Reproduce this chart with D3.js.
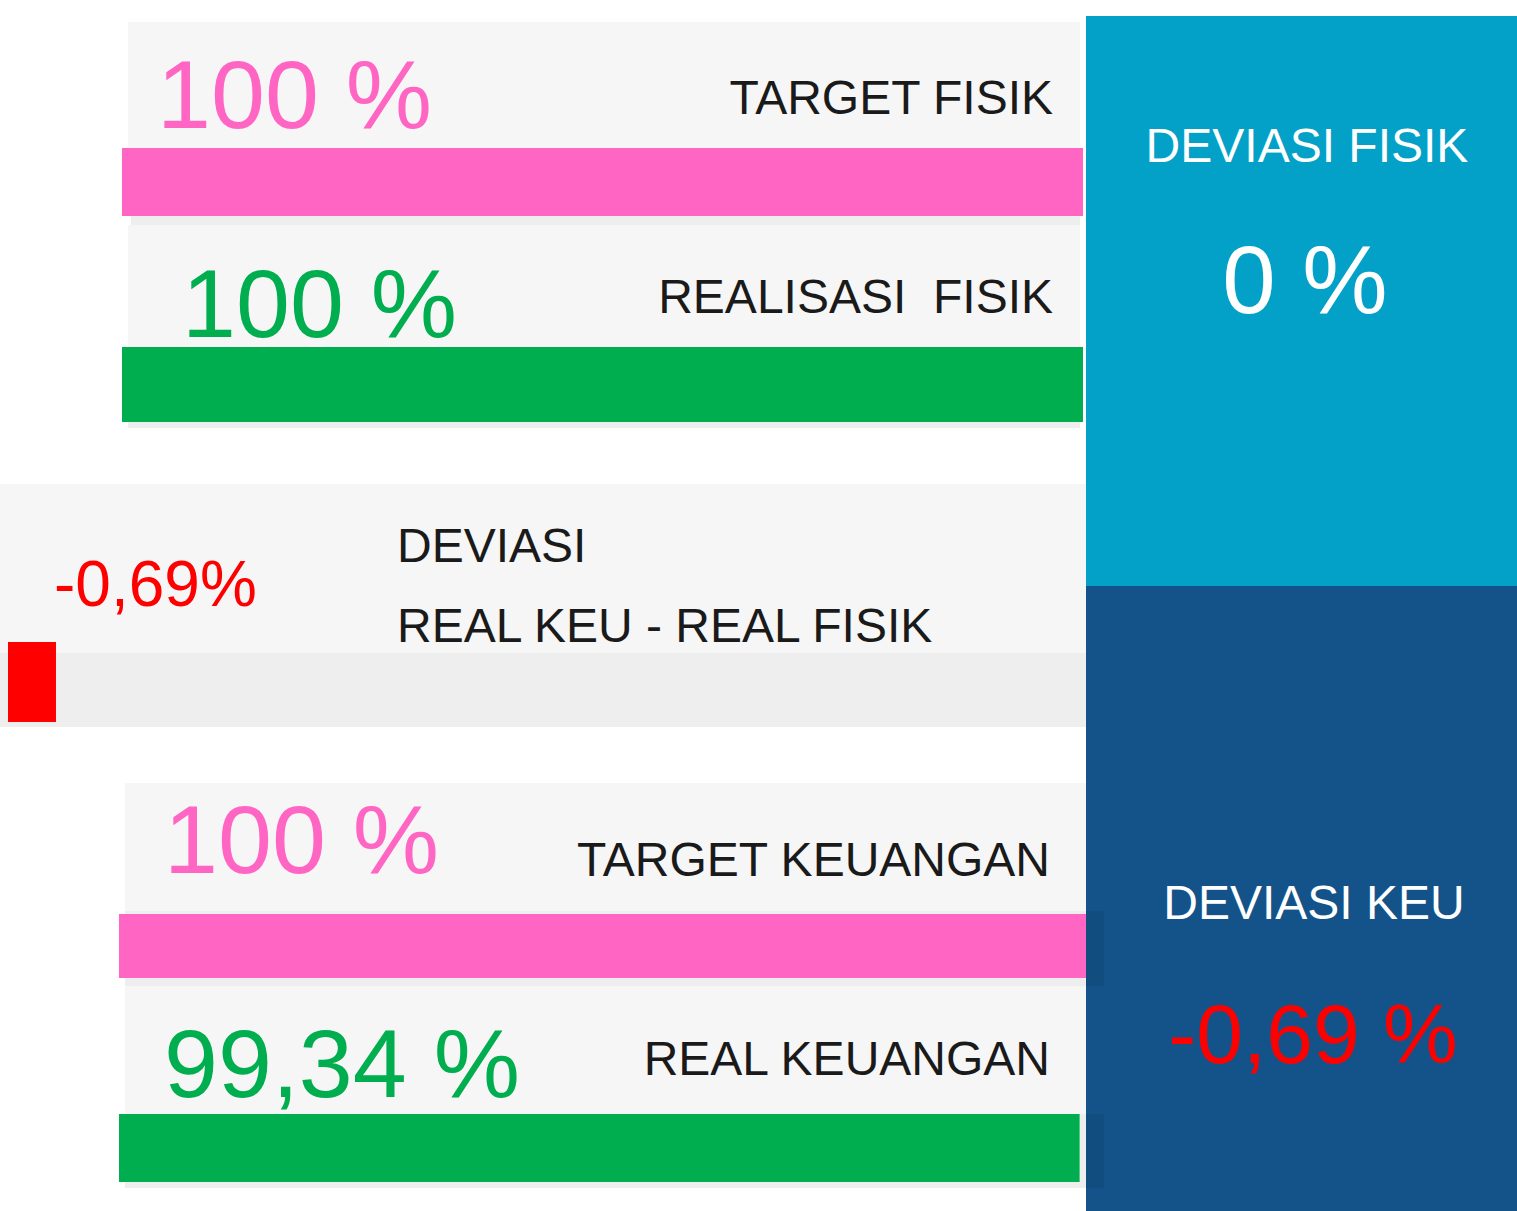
<!DOCTYPE html>
<html>
<head>
<meta charset="utf-8">
<script src="https://cdn.jsdelivr.net/npm/d3@7"></script>
<style>
  body { margin: 0; background: #fff; }
  text { font-family: "Liberation Sans", Arial, sans-serif; white-space: pre; }
</style>
</head>
<body>
<svg id="progres"></svg>
<script>
// data
const cardLabels = ["TARGET FISIK", "REALISASI  FISIK", "TARGET KEUANGAN", "REAL KEUANGAN"];
const cardValues = [100, 100, 100, 99.34];
const cardKinds = ["target", "real", "target", "real"];
const deviasiLines = ["DEVIASI", "REAL KEU - REAL FISIK"];
const deviasiValue = -0.69;
const sideTitles = ["DEVIASI FISIK", "DEVIASI KEU"];
const sideValues = [0, -0.69];

const width = 1517,
  height = 1211;

const colors = {
  target: "#ff66c4",
  real: "#00ae4f",
  bad: "#ff0000",
  card: "#f6f6f6",
  label: "#1a1a1a",
};

const locale = d3.formatLocale({
  decimal: ",",
  thousands: ".",
  grouping: [3],
  currency: ["", ""],
  minus: "-",
});
const fmt = locale.format(".2~f");

const svg = d3
  .select("#progres")
  .attr("width", width)
  .attr("height", height);

// kotak kanan (deviasi)
const sideBoxes = [
  { y: 16, h: 570, fill: "#03a1c7", tx: 1307, ty: 162, vx: 1305, vy: 313, vs: 96 },
  { y: 586, h: 625, fill: "#145389", tx: 1314, ty: 919, vx: 1313, vy: 1063, vs: 84 },
];

sideBoxes.forEach((b, i) => {
  svg
    .append("rect")
    .attr("x", 1086)
    .attr("y", b.y)
    .attr("width", width - 1086)
    .attr("height", b.h)
    .attr("fill", b.fill);

  svg
    .append("text")
    .attr("x", b.tx)
    .attr("y", b.ty)
    .attr("text-anchor", "middle")
    .attr("font-size", "48px")
    .attr("fill", "#fff")
    .text(sideTitles[i]);

  svg
    .append("text")
    .attr("x", b.vx)
    .attr("y", b.vy)
    .attr("text-anchor", "middle")
    .attr("font-size", b.vs + "px")
    .attr("fill", sideValues[i] < 0 ? colors.bad : "#fff")
    .text(fmt(sideValues[i]) + " %");
});

// kartu progres
const cards = [
  { x: 128, top: 22, barX: 122, barY: 148, barH: 68, trackY: 148, trackH: 77, trackX: 131, trackEnd: 1080, bgEnd: 1080, max: 961, tx: 157, ty: 128, lx: 1053, ly: 114 },
  { x: 128, top: 225, barX: 122, barY: 347, barH: 75, trackY: 347, trackH: 81, trackX: 128, trackEnd: 1080, bgEnd: 1080, max: 961, tx: 182, ty: 337, lx: 1053, ly: 313 },
  { x: 125, top: 783, barX: 119, barY: 914, barH: 64, trackY: 911, trackH: 75, trackX: 125, trackEnd: 1104, bgEnd: 1086, max: 967, tx: 164, ty: 873, lx: 1050, ly: 876 },
  { x: 125, top: 986, barX: 119, barY: 1114, barH: 68, trackY: 1114, trackH: 74, trackX: 125, trackEnd: 1104, bgEnd: 1086, max: 967, tx: 164, ty: 1097, lx: 1050, ly: 1075 },
];

cards.forEach((c, i) => {
  const x = d3.scaleLinear().domain([0, 100]).range([0, c.max]);

  svg
    .append("rect")
    .attr("x", c.x)
    .attr("y", c.top)
    .attr("width", c.bgEnd - c.x)
    .attr("height", c.trackY - c.top)
    .attr("fill", colors.card);

  svg
    .append("rect")
    .attr("x", c.trackX)
    .attr("y", c.trackY)
    .attr("width", c.trackEnd - c.trackX)
    .attr("height", c.trackH)
    .attr("fill", "#000")
    .attr("fill-opacity", 0.066);

  svg
    .append("rect")
    .attr("x", c.barX)
    .attr("y", c.barY)
    .attr("width", x(cardValues[i]))
    .attr("height", c.barH)
    .attr("fill", colors[cardKinds[i]]);

  svg
    .append("text")
    .attr("x", c.tx)
    .attr("y", c.ty)
    .attr("font-size", "97px")
    .attr("fill", colors[cardKinds[i]])
    .text(fmt(cardValues[i]) + " %");

  svg
    .append("text")
    .attr("x", c.lx)
    .attr("y", c.ly)
    .attr("text-anchor", "end")
    .attr("font-size", "48px")
    .attr("fill", colors.label)
    .text(cardLabels[i]);
});

// deviasi real keu - real fisik
const dev = d3.scaleLinear().domain([0, 15.5]).range([0, 1078]);

svg
  .append("rect")
  .attr("x", 0)
  .attr("y", 484)
  .attr("width", 1086)
  .attr("height", 169)
  .attr("fill", colors.card);

svg
  .append("rect")
  .attr("x", 0)
  .attr("y", 653)
  .attr("width", 1086)
  .attr("height", 74)
  .attr("fill", "#eeeeee");

svg
  .append("rect")
  .attr("x", 8)
  .attr("y", 642)
  .attr("width", dev(Math.abs(deviasiValue)))
  .attr("height", 80)
  .attr("fill", deviasiValue < 0 ? colors.bad : colors.real);

svg
  .append("text")
  .attr("x", 54)
  .attr("y", 606)
  .attr("font-size", "64px")
  .attr("fill", colors.bad)
  .text(fmt(deviasiValue) + "%");

svg
  .selectAll(".dev-label")
  .data(deviasiLines)
  .enter()
  .append("text")
  .attr("class", "dev-label")
  .attr("x", 397)
  .attr("y", (d, i) => 562 + i * 80)
  .attr("font-size", "48px")
  .attr("fill", colors.label)
  .text((d) => d);
</script>
</body>
</html>
